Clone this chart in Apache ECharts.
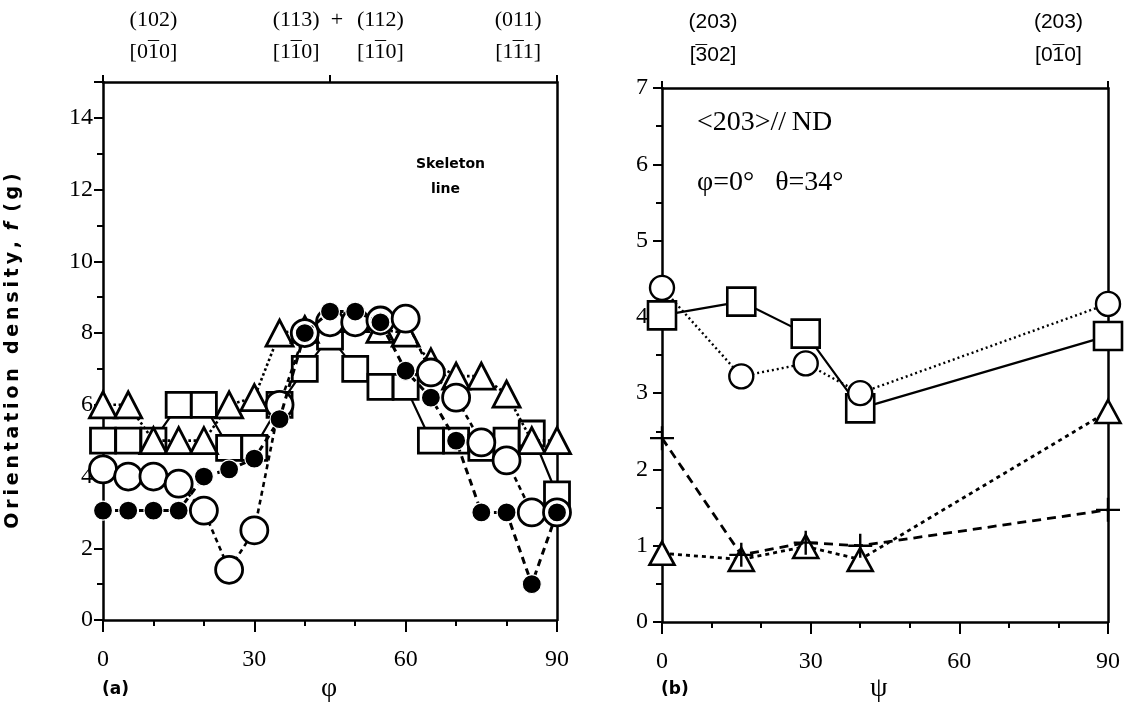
<!DOCTYPE html>
<html>
<head>
<meta charset="utf-8">
<script src="https://cdn.jsdelivr.net/npm/echarts@6/dist/echarts.min.js"></script>
<style>html,body{margin:0;padding:0;background:#fff;}#c{width:1124px;height:717px;}</style>
</head>
<body>
<div id="c"></div>
<script>
// ---- Panel (a): f(g) vs phi ----
const phi = [0,5,10,15,20,25,30,35,40,45,50,55,60,65,70,75,80,85,90];
const squaresA = [5,5,5,6,6,4.8,4.8,6,7,7.9,7,6.5,6.5,5,5,4.8,5,5.2,3.5];
const trianglesA = [6,6,5,5,5,6,6.2,8,8.1,8.4,8.4,8.1,8,7.2,6.8,6.8,6.3,5,5];
const openCirclesA = [4.2,4,4,3.8,3.05,1.4,2.5,6,8,8.3,8.3,8.35,8.4,6.9,6.2,4.95,4.45,3,3];
const filledCirclesA = [3.05,3.05,3.05,3.05,4,4.2,4.5,5.6,8,8.6,8.6,8.3,6.95,6.2,5,3,3,1,3];
// top labels: [plane, direction before barred digit, barred digit, after]
const topValuesA = [10, 38.3, 46.4, 55, 82.3];
const topLabelsA = [['(102)', '[0', '1', '0]'], ['(113)', '[1', '1', '0]'], ['+', '', '', ''], ['(112)', '[1', '1', '0]'], ['(011)', '[1', '1', '1]']];

// ---- Panel (b): f(g) vs psi ----
const psi = [0,16,29,40,90];
const squaresB = [4.02,4.2,3.78,2.8,3.75];
const circlesB = [4.38,3.22,3.39,3.0,4.17];
const trianglesB = [0.9,0.82,0.99,0.82,2.76];
const plusB = [2.41,0.88,1.04,1.0,1.47];
const topValuesB = [10.3, 80];
const topLabelsB = [['(203)', '[', '3', '02]'], ['(203)', '[0', '1', '0]']];

const zip = (xs, ys) => xs.map((x, i) => [x, ys[i]]);
const serif = 'Liberation Serif';
const sans = 'Liberation Sans';
const K = '#000';

function labelText(p) {
  if (!p[2]) return '{a|' + p[0] + '}\n{s|\u00a0}\n{s|\u00a0}';
  return '{a|' + p[0] + '}\n' +
    (p[1] ? '{t|' + p[1] + '}' : '') + '{m|\u00af}' + (p[3] ? '{t|' + p[3] + '}' : '') + '\n' +
    '{b|' + p[1] + p[2] + p[3] + '}';
}
function topRich(font, size, digitW, lh1) {
  return {
    a: {fontFamily: font, fontSize: size, lineHeight: lh1, color: K},
    s: {fontFamily: font, fontSize: size, lineHeight: 2, color: 'rgba(0,0,0,0)'},
    t: {fontFamily: font, fontSize: size, lineHeight: 2, color: 'rgba(0,0,0,0)'},
    m: {fontFamily: font, fontSize: size, lineHeight: 2, color: K, width: digitW, align: 'center'},
    b: {fontFamily: font, fontSize: size, lineHeight: 2, color: K}
  };
}

function bottomX(grid) {
  return {
    gridIndex: grid, type: 'value', min: 0, max: 90, interval: 30, position: 'bottom',
    axisLine: {show: true, onZero: false, lineStyle: {color: K, width: 2.5}},
    axisTick: {show: true, inside: false, length: 12, lineStyle: {color: K, width: 2}},
    minorTick: {show: true, splitNumber: 3, length: 6, lineStyle: {color: K, width: 2}},
    axisLabel: {color: K, fontFamily: serif, fontSize: 24, margin: 28},
    splitLine: {show: false}, minorSplitLine: {show: false}
  };
}
function topX(grid, vals, labels, tickVals, font, size, digitW, lh1, margin) {
  return {
    gridIndex: grid, type: 'value', min: 0, max: 90, position: 'top',
    axisLine: {show: true, onZero: false, lineStyle: {color: K, width: 2.5}},
    axisTick: {show: true, inside: false, length: 7, customValues: tickVals, lineStyle: {color: K, width: 2}},
    axisLabel: {show: true, customValues: vals, margin: margin, rich: topRich(font, size, digitW, lh1),
      formatter: function (v) { const i = vals.indexOf(v); return i >= 0 ? labelText(labels[i]) : ''; }},
    splitLine: {show: false}
  };
}

const spaced = s => s.split('').join('\u2009');

const option = {
  backgroundColor: '#fff',
  animation: false,
  grid: [
    {left: 103, top: 82, width: 454, height: 538, outerBoundsMode: 'none'},
    {left: 662, top: 88, width: 446, height: 534, outerBoundsMode: 'none'}
  ],
  xAxis: [
    bottomX(0),
    topX(0, topValuesA, topLabelsA, [0, 45, 90], serif, 22, 11, 58, 29),
    bottomX(1),
    topX(1, topValuesB, topLabelsB, [0, 90], sans, 21, 11.7, 60, 32)
  ],
  yAxis: [
    {gridIndex: 0, type: 'value', min: 0, max: 15, interval: 2, position: 'left',
     name: spaced('Orientation density, ') + '{i|f}' + spaced(' (g)'), nameLocation: 'middle', nameGap: 80, nameRotate: 90,
     nameTextStyle: {color: K, fontFamily: 'DejaVu Sans', fontWeight: 'bold', fontSize: 19,
       rich: {i: {fontStyle: 'italic', fontFamily: 'DejaVu Sans', fontWeight: 'bold', fontSize: 19}}},
     axisLine: {show: true, onZero: false, lineStyle: {color: K, width: 2.5}},
     axisTick: {show: true, inside: false, length: 9, lineStyle: {color: K, width: 2}},
     minorTick: {show: true, splitNumber: 2, length: 6, lineStyle: {color: K, width: 2}},
     axisLabel: {color: K, fontFamily: serif, fontSize: 24, margin: 10, showMaxLabel: false},
     splitLine: {show: false}, minorSplitLine: {show: false}},
    {gridIndex: 0, type: 'value', min: 0, max: 15, position: 'right',
     axisLine: {show: true, onZero: false, lineStyle: {color: K, width: 2.5}},
     axisTick: {show: false}, axisLabel: {show: false}, splitLine: {show: false}},
    {gridIndex: 1, type: 'value', min: 0, max: 7, interval: 1, position: 'left',
     axisLine: {show: true, onZero: false, lineStyle: {color: K, width: 2.5}},
     axisTick: {show: true, inside: false, length: 9, lineStyle: {color: K, width: 2}},
     minorTick: {show: true, splitNumber: 2, length: 6, lineStyle: {color: K, width: 2}},
     axisLabel: {color: K, fontFamily: serif, fontSize: 24, margin: 14},
     splitLine: {show: false}, minorSplitLine: {show: false}},
    {gridIndex: 1, type: 'value', min: 0, max: 7, position: 'right',
     axisLine: {show: true, onZero: false, lineStyle: {color: K, width: 2.5}},
     axisTick: {show: false}, axisLabel: {show: false}, splitLine: {show: false}}
  ],
  series: [
    {type: 'line', xAxisIndex: 0, yAxisIndex: 0, data: zip(phi, squaresA), symbol: 'rect', symbolSize: 25, z: 2,
     lineStyle: {color: K, width: 2.2, type: 'solid'}, itemStyle: {color: '#fff', borderColor: K, borderWidth: 2.8}},
    {type: 'line', xAxisIndex: 0, yAxisIndex: 0, data: zip(phi, trianglesA), symbol: 'triangle', symbolSize: [27, 26], z: 3,
     lineStyle: {color: K, width: 2.6, type: 'dotted'}, itemStyle: {color: '#fff', borderColor: K, borderWidth: 2.8}},
    {type: 'line', xAxisIndex: 0, yAxisIndex: 0, data: zip(phi, openCirclesA), symbol: 'circle', symbolSize: 27, z: 4,
     lineStyle: {color: K, width: 2.6, type: [5, 4]}, itemStyle: {color: '#fff', borderColor: K, borderWidth: 2.8}},
    {type: 'line', xAxisIndex: 0, yAxisIndex: 0, data: zip(phi, filledCirclesA), symbol: 'circle', symbolSize: 19, z: 5,
     lineStyle: {color: K, width: 3, type: [7, 5]}, itemStyle: {color: K, borderColor: '#fff', borderWidth: 1.2}},

    {type: 'line', xAxisIndex: 2, yAxisIndex: 2, data: zip(psi, squaresB), symbol: 'rect', symbolSize: 28, z: 2,
     lineStyle: {color: K, width: 2.2, type: 'solid'}, itemStyle: {color: '#fff', borderColor: K, borderWidth: 2.6}},
    {type: 'line', xAxisIndex: 2, yAxisIndex: 2, data: zip(psi, circlesB), symbol: 'circle', symbolSize: 24, z: 3,
     lineStyle: {color: K, width: 2.4, type: [2, 3]}, itemStyle: {color: '#fff', borderColor: K, borderWidth: 2.4}},
    {type: 'line', xAxisIndex: 2, yAxisIndex: 2, data: zip(psi, trianglesB), symbol: 'triangle', symbolSize: [25, 23], z: 4,
     lineStyle: {color: K, width: 2.8, type: [4, 4]}, itemStyle: {color: '#fff', borderColor: K, borderWidth: 2.6}},
    {type: 'line', xAxisIndex: 2, yAxisIndex: 2, data: zip(psi, plusB), symbol: 'path://M0,10L20,10M10,0L10,20', symbolSize: [24, 24], z: 5,
     lineStyle: {color: K, width: 2.8, type: [9, 6]}, itemStyle: {color: 'rgba(0,0,0,0)', borderColor: K, borderWidth: 2.4}}
  ],
  graphic: [
    {type: 'text', left: 416, top: 157, style: {text: 'Skeleton', font: 'bold 14px "DejaVu Sans"', fill: K}},
    {type: 'text', left: 431, top: 182, style: {text: 'line', font: 'bold 14px "DejaVu Sans"', fill: K}},
    {type: 'text', left: 102, top: 681, style: {text: '(a)', font: 'bold 17px "DejaVu Sans"', fill: K}},
    {type: 'text', left: 321, top: 675, style: {text: '\u03c6', font: '28px "Liberation Serif"', fill: K}},
    {type: 'text', left: 661, top: 681, style: {text: '(b)', font: 'bold 17px "DejaVu Sans"', fill: K}},
    {type: 'text', left: 870, top: 675, style: {text: '\u03c8', font: '28px "Liberation Serif"', fill: K}},
    {type: 'text', left: 697, top: 109, style: {text: '<203>//\u2009ND', font: '28px "Liberation Serif"', fill: K}},
    {type: 'text', left: 697, top: 169, style: {text: '\u03c6=0\u00b0   \u03b8=34\u00b0', font: '28px "Liberation Serif"', fill: K}}
  ]
};
const chart = echarts.init(document.getElementById('c'));
chart.setOption(option);
</script>
</body>
</html>
